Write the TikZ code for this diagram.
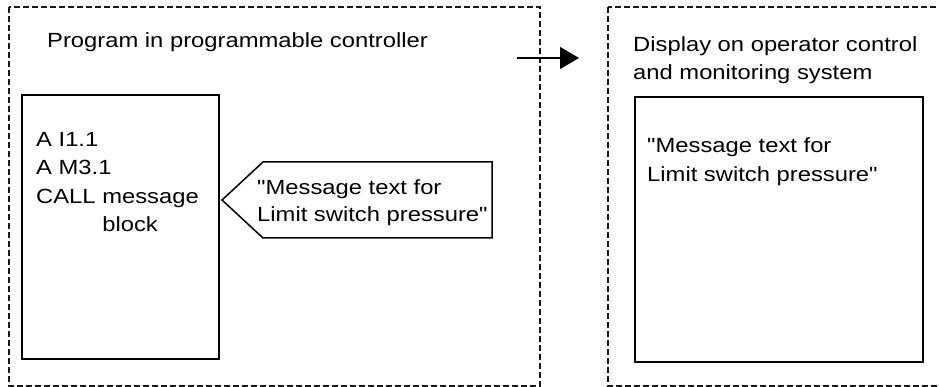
\documentclass[tikz,border=0pt]{standalone}
\usepackage{fontspec}
\usetikzlibrary{arrows.meta}
\newfontfamily\uifont[FakeStretch=1.16]{Liberation Sans}
\begin{document}
\begin{tikzpicture}[x=1pt,y=-1pt,
  lbl/.style={anchor=base west,inner sep=0pt,font=\uifont\fontsize{20.5}{28}\selectfont},
  groupbox/.style={draw=black!90,line width=1.3pt,dash pattern=on 6pt off 3pt},
  solidbox/.style={draw=black,line width=1.5pt},
  flow/.style={draw=black,line width=1.2pt,-{Triangle[length=19pt,width=22pt]}}]
\useasboundingbox (0,0) rectangle (939,387);
\begin{scope}
\clip (0,0) rectangle (939,387);
% dashed groups
\draw[groupbox] (9,7) rectangle (540,386);
\draw[groupbox] (608,7) rectangle (960,386);
% inner boxes
\draw[solidbox] (22,95) coordinate (pbnw) rectangle (219,359) coordinate (pbse);
\draw[solidbox] (635,97) coordinate (dbnw) rectangle (923,362) coordinate (dbse);
% callout
\coordinate (tip) at (222,200);
\coordinate (ctl) at (263,162);
\coordinate (ctr) at (492,162);
\coordinate (cbr) at (492,238);
\coordinate (cbl) at (263,238);
\draw[solidbox,line join=miter] (tip) -- (ctl) -- (ctr) -- (cbr) -- (cbl) -- cycle;
% arrow
\coordinate (astart) at (517,58);
\coordinate (aend) at (579,58);
\draw[flow] (astart) -- (aend);
\end{scope}
% texts
\node[lbl] (t1) at (47,48) {Program in programmable controller};
\node[lbl] (p1) at (36,147) {A I1.1};
\node[lbl] (p2) at (36,175) {A M3.1};
\node[lbl] (p3) at (36,204) {CALL message};
\node[lbl] (p4) at (36,232) {\phantom{CALL }block};
\node[lbl] (c1) at (257,195) {"Message text for};
\node[lbl] (c2) at (257,222) {Limit switch pressure"};
\node[lbl] (t2) at (633,52) {Display on operator control};
\node[lbl] (t3) at (633,80) {and monitoring system};
\node[lbl] (d1) at (647,153) {"Message text for};
\node[lbl] (d2) at (647,182) {Limit switch pressure"};
\end{tikzpicture}
\end{document}
